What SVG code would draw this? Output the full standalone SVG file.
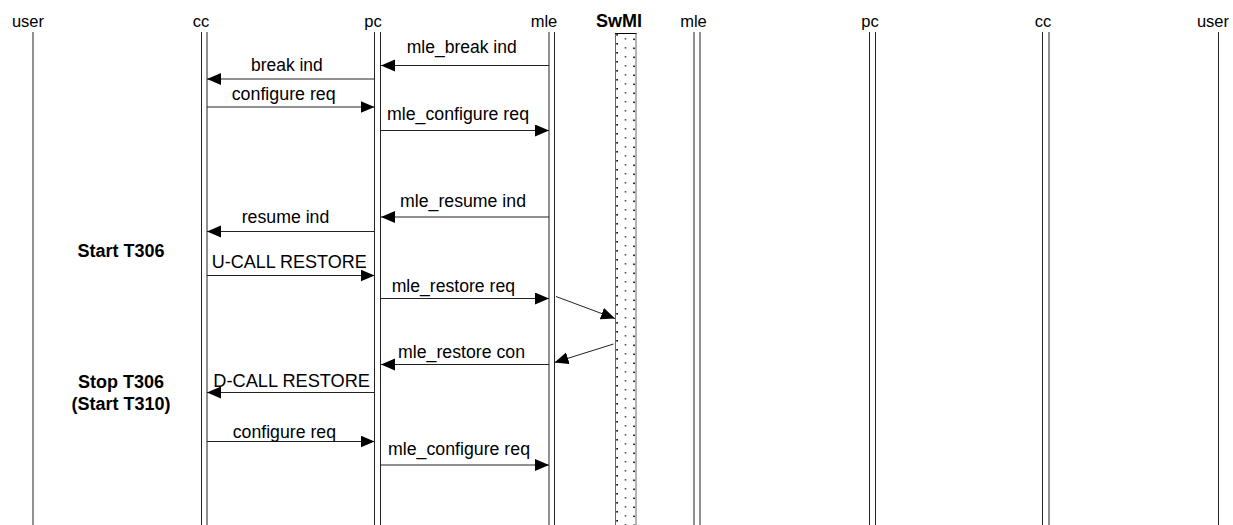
<svg xmlns="http://www.w3.org/2000/svg" width="1233" height="525" viewBox="0 0 1233 525">
<style>
.lbl{font-family:"Liberation Sans",Arial,sans-serif;font-size:16.5px;fill:#000;text-anchor:middle}
.msg{font-family:"Liberation Sans",Arial,sans-serif;font-size:17.5px;fill:#000}
.bold{font-family:"Liberation Sans",Arial,sans-serif;font-size:18px;font-weight:bold;fill:#000;text-anchor:middle}
.life{stroke:#222;stroke-width:1;fill:none}
.arr{stroke:#222;stroke-width:1;fill:none;marker-end:url(#ah)}
</style>
<defs>
<marker id="ah" markerUnits="userSpaceOnUse" markerWidth="15" markerHeight="13" refX="14" refY="6" orient="auto">
<path d="M0,0 L14,6 L0,12 Z" fill="#000"/>
</marker>
<pattern id="dots" patternUnits="userSpaceOnUse" x="615" y="33" width="21" height="9">
<rect x="1.3" y="1" width="1.6" height="1.6" fill="#000"/>
<rect x="18.2" y="5.5" width="1.6" height="1.6" fill="#000"/>
<rect x="9.7" y="5" width="1.6" height="1.6" fill="#555"/>
</pattern>
</defs>
<rect width="1233" height="525" fill="#fff"/>

<g id="user-left"><text class="lbl" x="28" y="27">user</text><line class="life" x1="33" y1="32" x2="33" y2="525"/></g>
<g id="cc-left"><text class="lbl" x="201" y="27">cc</text><line class="life" x1="201.5" y1="32" x2="201.5" y2="525"/><line class="life" x1="207" y1="32" x2="207" y2="525"/></g>
<g id="pc-left"><text class="lbl" x="373" y="27">pc</text><line class="life" x1="374.5" y1="32" x2="374.5" y2="525"/><line class="life" x1="380.5" y1="32" x2="380.5" y2="525"/></g>
<g id="mle-left"><text class="lbl" x="544" y="27">mle</text><line class="life" x1="549" y1="32" x2="549" y2="525"/><line class="life" x1="554.5" y1="32" x2="554.5" y2="525"/></g>
<g id="swmi"><text class="lbl" x="619" y="27" style="font-weight:bold;font-size:18px">SwMI</text>
<rect x="615.5" y="33.5" width="20.5" height="495" fill="url(#dots)" stroke="#666" stroke-width="1"/>
<line x1="615" y1="33.5" x2="636.5" y2="33.5" stroke="#000" stroke-width="1"/></g>
<g id="mle-right"><text class="lbl" x="693.5" y="27">mle</text><line class="life" x1="694" y1="32" x2="694" y2="525"/><line class="life" x1="700" y1="32" x2="700" y2="525"/></g>
<g id="pc-right"><text class="lbl" x="870" y="27">pc</text><line class="life" x1="869.5" y1="32" x2="869.5" y2="525"/><line class="life" x1="875.5" y1="32" x2="875.5" y2="525"/></g>
<g id="cc-right"><text class="lbl" x="1043" y="27">cc</text><line class="life" x1="1042.5" y1="32" x2="1042.5" y2="525"/><line class="life" x1="1049" y1="32" x2="1049" y2="525"/></g>
<g id="user-right"><text class="lbl" x="1213" y="27">user</text><line class="life" x1="1218.5" y1="32" x2="1218.5" y2="525"/></g>

<g id="notes">
<text class="bold" x="121" y="256.5">Start T306</text>
<text class="bold" x="121" y="388">Stop T306</text>
<text class="bold" x="121" y="409.5">(Start T310)</text>
</g>

<g id="connectors">
<line class="arr" x1="549" y1="65.5" x2="381" y2="65.5"/>
<line class="arr" x1="374.5" y1="79" x2="207" y2="79"/>
<line class="arr" x1="207" y1="107" x2="374.5" y2="107"/>
<line class="arr" x1="380.5" y1="130.5" x2="549" y2="130.5"/>
<line class="arr" x1="549" y1="217" x2="381" y2="217"/>
<line class="arr" x1="374.5" y1="231.5" x2="207" y2="231.5"/>
<line class="arr" x1="207" y1="275.5" x2="374.5" y2="275.5"/>
<line class="arr" x1="380.5" y1="298.5" x2="549" y2="298.5"/>
<line class="arr" x1="556" y1="296.5" x2="615" y2="318.5"/>
<line class="arr" x1="613.5" y1="344" x2="554.5" y2="362.5"/>
<line class="arr" x1="549" y1="364.5" x2="381" y2="364.5"/>
<line class="arr" x1="374.5" y1="392.5" x2="207" y2="392.5"/>
<line class="arr" x1="207" y1="441.5" x2="374.5" y2="441.5"/>
<line class="arr" x1="380.5" y1="465" x2="549" y2="465"/>
</g>

<g id="labels">
<text class="msg" x="406.7" y="53" textLength="110" lengthAdjust="spacingAndGlyphs">mle_break ind</text>
<text class="msg" x="251" y="71" textLength="71.7" lengthAdjust="spacingAndGlyphs">break ind</text>
<text class="msg" x="231.7" y="99.5" textLength="104" lengthAdjust="spacingAndGlyphs">configure req</text>
<text class="msg" x="387" y="120" textLength="142" lengthAdjust="spacingAndGlyphs">mle_configure req</text>
<text class="msg" x="400" y="206.5" textLength="126" lengthAdjust="spacingAndGlyphs">mle_resume ind</text>
<text class="msg" x="241.7" y="223" textLength="87.6" lengthAdjust="spacingAndGlyphs">resume ind</text>
<text class="msg" x="211.7" y="268" textLength="155" lengthAdjust="spacingAndGlyphs">U-CALL RESTORE</text>
<text class="msg" x="391.7" y="291.5" textLength="123.3" lengthAdjust="spacingAndGlyphs">mle_restore req</text>
<text class="msg" x="398" y="357.5" textLength="127" lengthAdjust="spacingAndGlyphs">mle_restore con</text>
<text class="msg" x="213.3" y="386.5" textLength="156.7" lengthAdjust="spacingAndGlyphs">D-CALL RESTORE</text>
<text class="msg" x="232.7" y="438" textLength="103.3" lengthAdjust="spacingAndGlyphs">configure req</text>
<text class="msg" x="388" y="454.5" textLength="142" lengthAdjust="spacingAndGlyphs">mle_configure req</text>
</g>
</svg>
